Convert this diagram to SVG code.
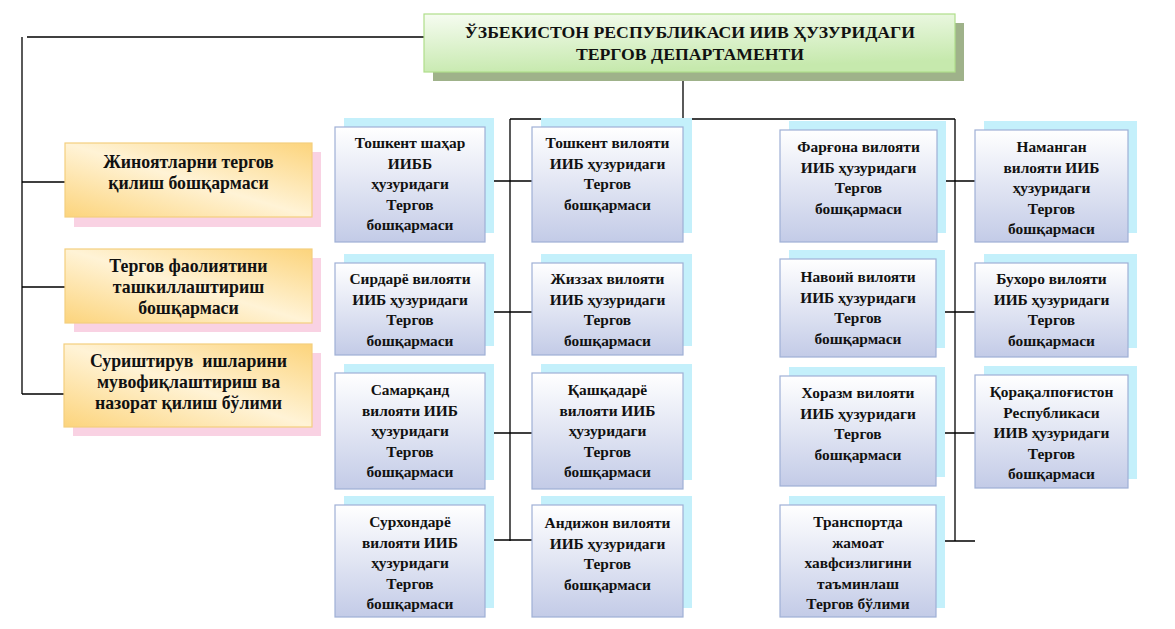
<svg xmlns="http://www.w3.org/2000/svg" width="1175" height="629" viewBox="0 0 1175 629">
<defs>
<linearGradient id="gTitle" x1="0" y1="0" x2="0.3" y2="1">
<stop offset="0" stop-color="#f6fcf1"/>
<stop offset="1" stop-color="#c6e9ad"/>
</linearGradient>
<linearGradient id="gLeft" x1="0" y1="1" x2="1" y2="0">
<stop offset="0" stop-color="#fcd47c"/>
<stop offset="0.5" stop-color="#fff3d6"/>
<stop offset="1" stop-color="#fcd47c"/>
</linearGradient>
<linearGradient id="gReg" x1="0" y1="0" x2="0" y2="1">
<stop offset="0" stop-color="#ffffff"/>
<stop offset="1" stop-color="#c3cbe7"/>
</linearGradient>
</defs>
<style>
.tsh{fill:#9fb28a}
.tbox{fill:url(#gTitle);stroke:#b0de8a;stroke-width:1.2}
.lsh{fill:#f9d2e3}
.lbox{fill:url(#gLeft);stroke:#f3cf7f;stroke-width:1.2}
.rsh{fill:#c4f0fb}
.rbox{fill:url(#gReg);stroke:#9fb0d6;stroke-width:1.2}
text{font-weight:bold;fill:#111;text-anchor:middle}
.tt{font-size:17.7px}
.lt{font-size:17.8px}
.rt{font-size:15.4px}
.conn{stroke:#000;stroke-width:1.3;fill:none}
</style>
<rect width="1175" height="629" fill="#fff"/>

<g id="connectors" class="conn">
<path d="M27,37 H424"/>
<path d="M22,37 V394"/>
<path d="M22,182 H65 M22,287 H65 M22,394 H65"/>
<path d="M683,72 V119"/>
<path d="M510,119 H955"/>
<path d="M510,119 V541"/>
<path d="M955,119 V541"/>
<path d="M485,181 H532 M485,312 H532 M485,433 H532 M485,540 H532"/>
<path d="M936,181 H975 M936,312 H975 M936,433 H975 M936,541 H975"/>
</g>

<g font-family="'Liberation Serif', 'DejaVu Serif', serif">
<g id="title">
<rect class="tsh" x="433" y="23" width="531" height="58"/>
<rect class="tbox" x="424" y="14" width="531" height="58"/>
<text class="tt" x="690" y="37.5">ЎЗБЕКИСТОН РЕСПУБЛИКАСИ ИИВ ҲУЗУРИДАГИ</text>
<text class="tt" x="690" y="60">ТЕРГОВ ДЕПАРТАМЕНТИ</text>
</g>

<g id="left1">
<rect class="lsh" x="74" y="152" width="247" height="75"/>
<rect class="lbox" x="65" y="143" width="247" height="74"/>
<text class="lt" x="188.5" y="168">Жиноятларни тергов</text>
<text class="lt" x="188.5" y="188.5">қилиш бошқармаси</text>
</g>
<g id="left2">
<rect class="lsh" x="74" y="258" width="247" height="74"/>
<rect class="lbox" x="65" y="249" width="247" height="74"/>
<text class="lt" x="188.5" y="272">Тергов фаолиятини</text>
<text class="lt" x="188.5" y="293">ташкиллаштириш</text>
<text class="lt" x="188.5" y="314">бошқармаси</text>
</g>
<g id="left3">
<rect class="lsh" x="73" y="353" width="248" height="83"/>
<rect class="lbox" x="64" y="344" width="248" height="83"/>
<text class="lt" x="188.5" y="367" xml:space="preserve">Суриштирув  ишларини</text>
<text class="lt" x="188.5" y="388">мувофиқлаштириш ва</text>
<text class="lt" x="188.5" y="409">назорат қилиш бўлими</text>
</g>

<g id="toshkent-shahar">
<rect class="rsh" x="344" y="118" width="150" height="115"/>
<rect class="rbox" x="335" y="127" width="150" height="115"/>
<text class="rt" x="410" y="148">Тошкент шаҳар</text>
<text class="rt" x="410" y="168.5">ИИББ</text>
<text class="rt" x="410" y="189">ҳузуридаги</text>
<text class="rt" x="410" y="209.5">Тергов</text>
<text class="rt" x="410" y="230">бошқармаси</text>
</g>
<g id="sirdaryo">
<rect class="rsh" x="344" y="254" width="150" height="92"/>
<rect class="rbox" x="335" y="263" width="150" height="92"/>
<text class="rt" x="410" y="284">Сирдарё вилояти</text>
<text class="rt" x="410" y="304.5">ИИБ ҳузуридаги</text>
<text class="rt" x="410" y="325">Тергов</text>
<text class="rt" x="410" y="345.5">бошқармаси</text>
</g>
<g id="samarqand">
<rect class="rsh" x="344" y="364" width="150" height="116"/>
<rect class="rbox" x="335" y="373" width="150" height="116"/>
<text class="rt" x="410" y="395">Самарқанд</text>
<text class="rt" x="410" y="415.5">вилояти ИИБ</text>
<text class="rt" x="410" y="436">ҳузуридаги</text>
<text class="rt" x="410" y="456.5">Тергов</text>
<text class="rt" x="410" y="477">бошқармаси</text>
</g>
<g id="surxondaryo">
<rect class="rsh" x="344" y="496" width="150" height="112"/>
<rect class="rbox" x="335" y="505" width="150" height="112"/>
<text class="rt" x="410" y="527">Сурхондарё</text>
<text class="rt" x="410" y="547.5">вилояти ИИБ</text>
<text class="rt" x="410" y="568">ҳузуридаги</text>
<text class="rt" x="410" y="588.5">Тергов</text>
<text class="rt" x="410" y="609">бошқармаси</text>
</g>

<g id="toshkent-viloyati">
<rect class="rsh" x="541" y="118" width="151" height="115"/>
<rect class="rbox" x="532" y="127" width="151" height="115"/>
<text class="rt" x="607.5" y="148">Тошкент вилояти</text>
<text class="rt" x="607.5" y="168.5">ИИБ ҳузуридаги</text>
<text class="rt" x="607.5" y="189">Тергов</text>
<text class="rt" x="607.5" y="209.5">бошқармаси</text>
</g>
<g id="jizzax">
<rect class="rsh" x="541" y="254" width="151" height="92"/>
<rect class="rbox" x="532" y="263" width="151" height="92"/>
<text class="rt" x="607.5" y="284">Жиззах вилояти</text>
<text class="rt" x="607.5" y="304.5">ИИБ ҳузуридаги</text>
<text class="rt" x="607.5" y="325">Тергов</text>
<text class="rt" x="607.5" y="345.5">бошқармаси</text>
</g>
<g id="qashqadaryo">
<rect class="rsh" x="541" y="364" width="151" height="116"/>
<rect class="rbox" x="532" y="373" width="151" height="116"/>
<text class="rt" x="607.5" y="395">Қашқадарё</text>
<text class="rt" x="607.5" y="415.5">вилояти ИИБ</text>
<text class="rt" x="607.5" y="436">ҳузуридаги</text>
<text class="rt" x="607.5" y="456.5">Тергов</text>
<text class="rt" x="607.5" y="477">бошқармаси</text>
</g>
<g id="andijon">
<rect class="rsh" x="541" y="496" width="151" height="112"/>
<rect class="rbox" x="532" y="505" width="151" height="112"/>
<text class="rt" x="607.5" y="528">Андижон вилояти</text>
<text class="rt" x="607.5" y="548.5">ИИБ ҳузуридаги</text>
<text class="rt" x="607.5" y="569">Тергов</text>
<text class="rt" x="607.5" y="589.5">бошқармаси</text>
</g>

<g id="fargona">
<rect class="rsh" x="789" y="121" width="157" height="112"/>
<rect class="rbox" x="780" y="130" width="157" height="112"/>
<text class="rt" x="858.5" y="152">Фарғона вилояти</text>
<text class="rt" x="858.5" y="172.5">ИИБ ҳузуридаги</text>
<text class="rt" x="858.5" y="193">Тергов</text>
<text class="rt" x="858.5" y="213.5">бошқармаси</text>
</g>
<g id="navoiy">
<rect class="rsh" x="789" y="250" width="156" height="98"/>
<rect class="rbox" x="780" y="259" width="156" height="98"/>
<text class="rt" x="858" y="282">Навоий вилояти</text>
<text class="rt" x="858" y="302.5">ИИБ ҳузуридаги</text>
<text class="rt" x="858" y="323">Тергов</text>
<text class="rt" x="858" y="343.5">бошқармаси</text>
</g>
<g id="xorazm">
<rect class="rsh" x="789" y="367" width="156" height="110"/>
<rect class="rbox" x="780" y="376" width="156" height="110"/>
<text class="rt" x="858" y="398">Хоразм вилояти</text>
<text class="rt" x="858" y="418.5">ИИБ ҳузуридаги</text>
<text class="rt" x="858" y="439">Тергов</text>
<text class="rt" x="858" y="459.5">бошқармаси</text>
</g>
<g id="transport">
<rect class="rsh" x="789" y="496" width="156" height="112"/>
<rect class="rbox" x="780" y="505" width="156" height="112"/>
<text class="rt" x="858" y="527">Транспортда</text>
<text class="rt" x="858" y="547.5">жамоат</text>
<text class="rt" x="858" y="568">хавфсизлигини</text>
<text class="rt" x="858" y="588.5">таъминлаш</text>
<text class="rt" x="858" y="609">Тергов бўлими</text>
</g>

<g id="namangan">
<rect class="rsh" x="984" y="121" width="153" height="112"/>
<rect class="rbox" x="975" y="130" width="153" height="112"/>
<text class="rt" x="1051.5" y="152">Наманган</text>
<text class="rt" x="1051.5" y="172.5">вилояти ИИБ</text>
<text class="rt" x="1051.5" y="193">ҳузуридаги</text>
<text class="rt" x="1051.5" y="213.5">Тергов</text>
<text class="rt" x="1051.5" y="234">бошқармаси</text>
</g>
<g id="buxoro">
<rect class="rsh" x="984" y="254" width="153" height="94"/>
<rect class="rbox" x="975" y="263" width="153" height="94"/>
<text class="rt" x="1051.5" y="284">Бухоро вилояти</text>
<text class="rt" x="1051.5" y="304.5">ИИБ ҳузуридаги</text>
<text class="rt" x="1051.5" y="325">Тергов</text>
<text class="rt" x="1051.5" y="345.5">бошқармаси</text>
</g>
<g id="qoraqalpogiston">
<rect class="rsh" x="984" y="366" width="153" height="113"/>
<rect class="rbox" x="975" y="375" width="153" height="113"/>
<text class="rt" x="1051.5" y="397">Қорақалпоғистон</text>
<text class="rt" x="1051.5" y="417.5">Республикаси</text>
<text class="rt" x="1051.5" y="438">ИИВ ҳузуридаги</text>
<text class="rt" x="1051.5" y="458.5">Тергов</text>
<text class="rt" x="1051.5" y="479">бошқармаси</text>
</g>
</g>
</svg>
